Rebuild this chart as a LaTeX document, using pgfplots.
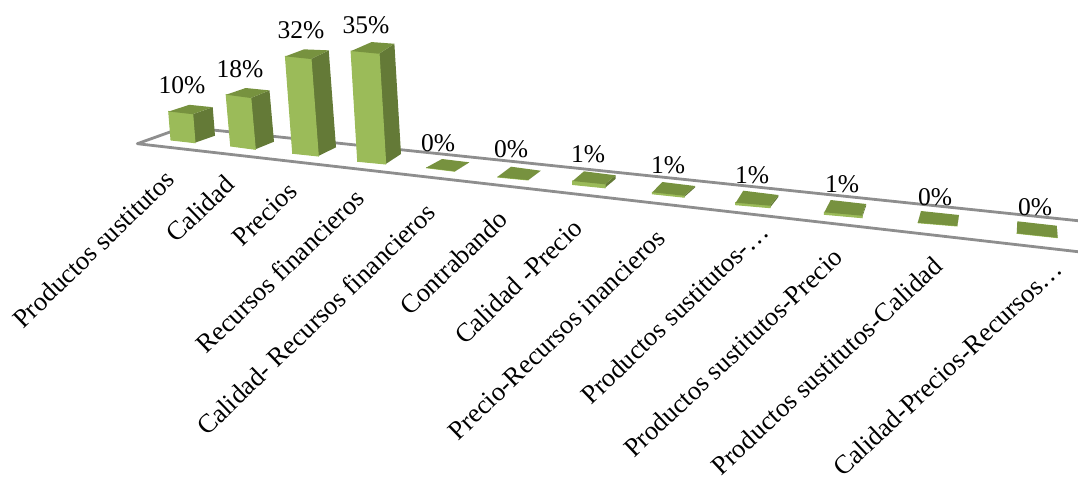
\documentclass[border=0pt]{standalone}
\usepackage{fontspec}
\setmainfont{Liberation Serif}
\usepackage{pgfplots}
\pgfplotsset{compat=1.18}
\definecolor{barfront}{HTML}{9BBB59}
\definecolor{barside}{HTML}{647A37}
\definecolor{bartop}{HTML}{77923F}
\definecolor{floorline}{HTML}{8E8E8E}

% Raises a floor point by the current bar height
\def\liftpt#1,#2;#3{%
  \pgfmathsetmacro\tmpx{#1-\barshift}%
  \pgfmathsetmacro\tmpy{#2-\barheight}%
  \edef#3{(\tmpx,\tmpy)}}

% #1 share in percent, #2 height per percent, #3 lean of the vertical edges,
% #4 to #7 floor corners: front left, front right, side right, back
\newcommand\colbar[7]{%
  \pgfmathsetmacro\barheight{#1*#2}%
  \pgfmathsetmacro\barshift{\barheight*#3}%
  \liftpt#4;\tFL \liftpt#5;\tFR \liftpt#6;\tSR \liftpt#7;\tBK
  \edef\temp{\noexpand\addplot[fill=barside,draw=none] coordinates {(#5) (#6) \tSR\space \tFR} --cycle;}\temp
  \edef\temp{\noexpand\addplot[fill=barfront,draw=barfront,line width=1pt] coordinates {(#4) (#5) \tFR\space \tFL} --cycle;}\temp
  \edef\temp{\noexpand\addplot[fill=bartop,draw=none] coordinates {\tFL\space \tFR\space \tSR\space \tBK} --cycle;}\temp
}

\begin{document}
\begin{tikzpicture}
\useasboundingbox (0,0) rectangle (1078pt,482pt);
\begin{axis}[
  at={(0,0)}, anchor=south west,
  x=1pt, y=1pt, y dir=reverse,
  xmin=0, xmax=1078, ymin=0, ymax=482,
  hide axis, clip=false,
]
% floor outline
\addplot[draw=floorline,line width=2.8pt,line join=round] coordinates
  {(1078,220.7) (184,127) (137.3,143.7) (1078,251.7)};

\colbar{10}{2.85}{0.08}{171,140}{195,142.7}{215,135.7}{191.6,133.3}
\colbar{18}{2.85}{0.088}{230.7,146}{255.3,149.3}{274,141.7}{250.2,139.3}
\colbar{32}{3.03}{0.075}{292.7,153.3}{318.3,156}{336,147.3}{311.3,146.3}
\colbar{35}{3.15}{0.06}{357.7,161.3}{385.7,164}{401,154}{378.2,152.3}
\colbar{0}{3}{0}{426,167.7}{455,171.3}{469.3,162.3}{442,159}
\colbar{0}{3}{0}{497.3,177}{528.3,180}{540.7,170.7}{511,166.7}
\colbar{1}{3.5}{0}{572.7,184.5}{605,187.8}{615.7,178.8}{584,174.8}
\colbar{1}{1.5}{0}{652.3,193.8}{684,197.2}{695,187.5}{662.3,183.5}
\colbar{1}{2}{0}{735.7,204.7}{770,207.7}{778.3,197}{743.3,192.7}
\colbar{1}{2}{0}{824.3,214.3}{862,217.7}{866,206}{830.7,202}
\colbar{0}{3}{0}{917.7,222.7}{957.3,226}{959,215}{921,211}
\colbar{0}{3}{0}{1016.7,233.3}{1057.7,237.7}{1056.7,225.7}{1017.3,221.3}

% percentage labels
\begin{scope}[every node/.style={font=\fontsize{25.5}{28}\selectfont,inner sep=0pt}]
\node at (axis cs:182,85) {10\%};
\node at (axis cs:240,69) {18\%};
\node at (axis cs:301,30) {32\%};
\node at (axis cs:366,25) {35\%};
\node at (axis cs:438,143) {0\%};
\node at (axis cs:511,149) {0\%};
\node at (axis cs:588,154) {1\%};
\node at (axis cs:668,165) {1\%};
\node at (axis cs:752,175) {1\%};
\node at (axis cs:842,184) {1\%};
\node at (axis cs:935,197) {0\%};
\node at (axis cs:1035,207) {0\%};
\end{scope}

% category names
\begin{scope}[every node/.style={font=\fontsize{26.5}{30}\selectfont,inner sep=0pt,anchor=east}]
\node[rotate=44] at (axis cs:170,175) {Productos sustitutos};
\node[rotate=44] at (axis cs:230,180) {Calidad};
\node[rotate=44] at (axis cs:293,187) {Precios};
\node[rotate=44] at (axis cs:360,194) {Recursos financieros};
\node[rotate=44] at (axis cs:431,208) {Calidad- Recursos financieros};
\node[rotate=44] at (axis cs:503,215) {Contrabando};
\node[rotate=44] at (axis cs:578,224) {Calidad -Precio};
\node[rotate=44] at (axis cs:661,234) {Precio-Recursos inancieros};
\node[rotate=44] at (axis cs:764,227) {Productos sustitutos-…};
\node[rotate=43.5] at (axis cs:838,253) {Productos sustitutos-Precio};
\node[rotate=43] at (axis cs:938,262) {Productos sustitutos-Calidad};
\node[rotate=43] at (axis cs:1058,265) {Calidad-Precios-Recursos…};
\end{scope}
\end{axis}
\end{tikzpicture}
\end{document}
